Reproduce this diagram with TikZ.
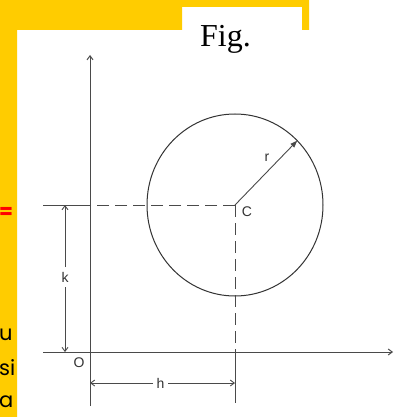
\documentclass[tikz,border=0pt]{standalone}
\usepackage{fontspec}
\setmainfont{Liberation Serif}
\newfontfamily\lblfont{Liberation Sans}
\newfontfamily\stripfont{Poppins}
\usetikzlibrary{arrows.meta}
\definecolor{slideyellow}{HTML}{FFCC00}
\definecolor{axisgray}{HTML}{4A4A4A}
\definecolor{lblgray}{HTML}{333333}
\tikzset{
  axisline/.style={draw=axisgray,line width=1pt},
  dimline/.style={draw=axisgray,line width=0.9pt},
  dashline/.style={draw=axisgray,line width=1pt,dash pattern=on 12pt off 6pt},
  barb/.style={-{Straight Barb[length=4pt,width=6pt]}},
  lbl/.style={text=lblgray,font=\lblfont\fontsize{14}{14}\selectfont,inner sep=0pt},
  striptext/.style={font=\stripfont\fontsize{21}{21}\selectfont,inner sep=0pt,anchor=base west}
}
\begin{document}
\begin{tikzpicture}[x=1pt,y=-1pt]
\useasboundingbox (0,0) rectangle (401,417);
\fill[white] (0,0) rectangle (401,417);
\fill[slideyellow] (0,0) -- (309,0) -- (309,30) -- (302,30) -- (302,7) -- (182,7) -- (182,30) -- (17,30) -- (17,417) -- (0,417) -- cycle;
% strip texts
\begin{scope}
\clip (0,0) rectangle (17,417);
\node[striptext,text=red,font=\stripfont\bfseries\fontsize{20}{20}\selectfont] (eq) at (-1,218) {=};
\node[striptext] (tu) at (-1,340) {u};
\node[striptext] (tsi) at (-1,375) {si};
\node[striptext] (ta) at (-1,407) {a};
\end{scope}
% title
\node[anchor=base,inner sep=0pt,font=\fontsize{32}{32}\selectfont] (fig) at (225.5,46.7) {Fig.};
% coordinates
\coordinate (O) at (90,352);
\coordinate (C) at (235,205);
\coordinate (ytop) at (90,55);
\coordinate (ybot) at (90,406);
\coordinate (xl) at (43,352);
\coordinate (xr) at (393,352);
\coordinate (kl) at (43,205);
\coordinate (ky) at (90,205);
\coordinate (hx) at (235,352);
\coordinate (hb) at (235,403);
\coordinate (R) at ({235+88*cos(45)},{205-91*sin(45)});
% axes
\draw[axisline,barb] (ybot) -- (ytop);
\draw[axisline,barb] (xl) -- (xr);
% circle
\draw[draw=black!80,line width=1pt] (C) ellipse [x radius=88, y radius=91];
% dashed projections
\draw[dashline] (C) -- (ky);
\draw[axisline] (ky) -- (kl);
\draw[dashline] (C) -- (hx);
\draw[axisline] (hx) -- (hb);
% radius
\draw[draw=axisgray,line width=0.9pt,-{Triangle[length=7pt,width=5pt]}] (C) -- (R);
% labels
\node[lbl] (lk) at (65,277) {k};
\node[lbl] (lh) at (160.5,383) {h};
\node[lbl] (lO) at (79,363) {O};
\node[lbl] (lC) at (247,212) {C};
\node[lbl] (lr) at (267,158) {r};
% dimension lines
\coordinate (kt) at (65,205);
\coordinate (kb) at (65,352);
\coordinate (hl) at (90,383);
\coordinate (hr) at (235,383);
\draw[dimline,barb] (65,267) -- (kt);
\draw[dimline,barb] (65,287) -- (kb);
\draw[dimline,barb] (153,383) -- (hl);
\draw[dimline,barb] (168,383) -- (hr);
\end{tikzpicture}
\end{document}
